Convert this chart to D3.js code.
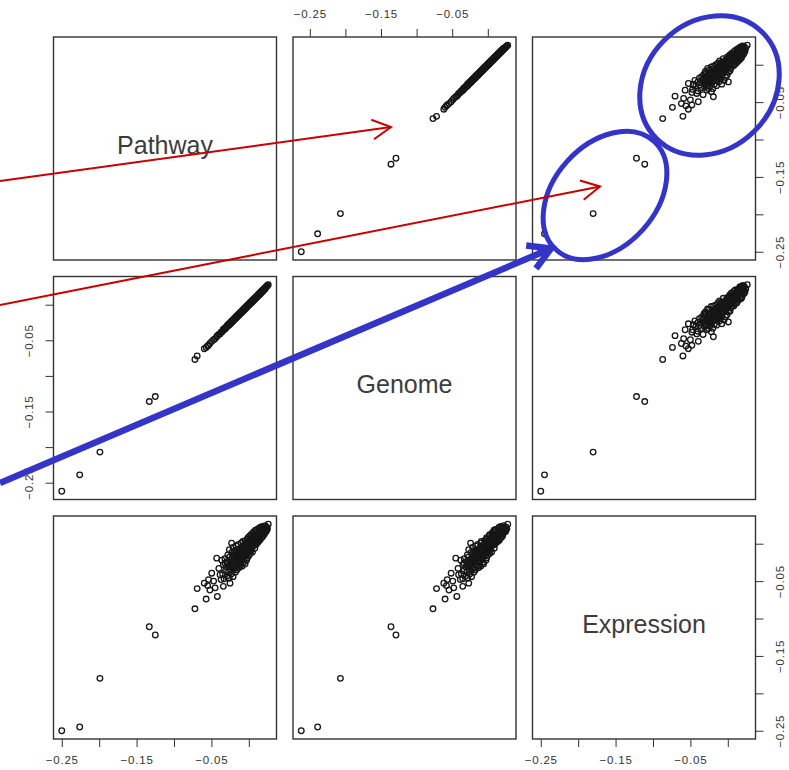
<!DOCTYPE html>
<html lang="en">
  <head>
    <meta charset="utf-8" />
    <title>Pairs plot</title>
    <script src="https://d3js.org/d3.v7.min.js"></script>
    <style>
      body { margin: 0; background: #fff; }
      text { font-family: "Liberation Sans", Arial, sans-serif; }
    </style>
  </head>
  <body>
    <script type="text/javascript">
      // variables of the pairs plot, in panel order
      const varNames = ["Pathway", "Genome", "Expression"];

      // one value per observation (outliers, sparse tail, dense cluster by band)
      const pathway = [
        -0.25, -0.226, -0.199, -0.125, -0.133, -0.072, -0.069,
        -0.057, -0.042, -0.045, -0.0595, -0.0495, -0.0384, -0.0274, -0.0251, -0.034, -0.0538, -0.0429, -0.023, -0.0317, -0.052, -0.047, -0.04, -0.037, -0.055, -0.036,
        -0.035, -0.034, -0.033, -0.032, -0.031, -0.03,
        -0.029, -0.029, -0.028, -0.027, -0.027, -0.026, -0.026, -0.025,
        -0.024, -0.024, -0.023, -0.023, -0.022, -0.022, -0.021, -0.021, -0.02, -0.02,
        -0.019, -0.019, -0.018, -0.018, -0.017, -0.017, -0.016, -0.016, -0.016, -0.015, -0.015, -0.015,
        -0.014, -0.014, -0.013, -0.013, -0.012, -0.012, -0.011, -0.011, -0.011, -0.01, -0.01, -0.01,
        -0.009, -0.009, -0.008, -0.008, -0.007, -0.007, -0.006, -0.006, -0.006, -0.005, -0.005, -0.005,
        -0.004, -0.004, -0.003, -0.003, -0.002, -0.002, -0.002, -0.001, -0.001, 0.0, 0.0, 0.0,
        0.001, 0.001, 0.002, 0.002, 0.003, 0.003, 0.003, 0.004, 0.004, 0.005, 0.005, 0.005,
        0.006, 0.006, 0.007, 0.007, 0.008, 0.008, 0.009, 0.009, 0.01, 0.01, 0.01,
        0.011, 0.011, 0.012, 0.012, 0.013, 0.013, 0.014, 0.014, 0.015, 0.015,
        0.016, 0.016, 0.017, 0.017, 0.018, 0.018, 0.019, 0.019, 0.02,
        0.021, 0.021, 0.022, 0.022, 0.023, 0.024, 0.025, 0.026,
        -0.028, -0.025, -0.022, -0.019, -0.017, -0.014, -0.012, -0.009, -0.007, -0.004, -0.001, 0.001, 0.004, 0.006, 0.009, 0.011, 0.014, 0.017, 0.019, 0.022,
        -0.026, -0.023, -0.02, -0.018, -0.015, -0.013, -0.01, -0.008, -0.005, -0.003, 0.0, 0.002, 0.005, 0.008, 0.01, 0.013, 0.015, 0.018, 0.02, 0.024,
      ];
      const genome = [
        -0.262, -0.239, -0.207, -0.129, -0.136, -0.077, -0.072,
        -0.06, -0.0435, -0.0478, -0.0618, -0.0515, -0.041, -0.0285, -0.0268, -0.0352, -0.057, -0.045, -0.0242, -0.0335, -0.0545, -0.0492, -0.0418, -0.0386, -0.0581, -0.038,
        -0.0372, -0.0349, -0.0352, -0.0331, -0.0334, -0.0309,
        -0.0311, -0.0298, -0.0287, -0.0291, -0.0279, -0.0268, -0.0281, -0.0257,
        -0.0259, -0.0246, -0.0236, -0.0249, -0.0225, -0.0238, -0.0214, -0.0228, -0.0216, -0.0203,
        -0.0206, -0.0193, -0.0183, -0.0196, -0.0172, -0.0185, -0.0161, -0.0175, -0.0166, -0.0164, -0.0151, -0.0159,
        -0.0153, -0.0141, -0.013, -0.0143, -0.012, -0.0132, -0.011, -0.0123, -0.0114, -0.0099, -0.0111, -0.0104,
        -0.0101, -0.0088, -0.0078, -0.0091, -0.0068, -0.008, -0.0057, -0.007, -0.0061, -0.0047, -0.0059, -0.0052,
        -0.0048, -0.0036, -0.0026, -0.0039, -0.0015, -0.0027, -0.0019, -0.0005, -0.0017, 0.0006, -0.0006, 0.0001,
        0.0005, 0.0017, 0.0027, 0.0014, 0.0038, 0.0025, 0.0031, 0.0048, 0.0036, 0.0059, 0.0046, 0.0054,
        0.0069, 0.0057, 0.008, 0.0067, 0.009, 0.0078, 0.0101, 0.0088, 0.0111, 0.0099, 0.0106,
        0.0122, 0.0109, 0.0132, 0.012, 0.0143, 0.013, 0.0153, 0.0141, 0.0164, 0.0151,
        0.0174, 0.0162, 0.0185, 0.0172, 0.0195, 0.0183, 0.0206, 0.0193, 0.0216,
        0.0227, 0.0214, 0.0237, 0.0225, 0.0248, 0.0258, 0.0269, 0.028,
        -0.029, -0.0268, -0.0228, -0.0204, -0.0176, -0.015, -0.0123, -0.0098, -0.0071, -0.0045, -0.0008, 0.0014, 0.0039, 0.0066, 0.0092, 0.0119, 0.0144, 0.0182, 0.0197, 0.0234,
        -0.0276, -0.0239, -0.0213, -0.0186, -0.0161, -0.0134, -0.0108, -0.0081, -0.0056, -0.0029, -0.0003, 0.0024, 0.005, 0.0087, 0.0102, 0.014, 0.0155, 0.0192, 0.0207, 0.0255,
      ];
      const expression = [
        -0.25, -0.245, -0.18, -0.122, -0.111, -0.087, -0.06,
        -0.074, -0.0705, -0.059, -0.0527, -0.0394, -0.0415, -0.046, -0.0527, -0.057, -0.048, -0.0193, 0.0008, -0.026, -0.062, -0.05, -0.033, -0.048, -0.056, -0.022,
        -0.04, -0.028, -0.047, -0.02, -0.036, -0.031,
        -0.043, -0.024, -0.015, -0.038, -0.03, -0.008, -0.046, -0.022,
        -0.035, -0.027, -0.012, -0.04, -0.019, -0.03, -0.005, -0.044, -0.025, -0.015,
        -0.033, -0.01, -0.022, -0.038, -0.003, -0.028, -0.017, -0.035, -0.008, -0.024, -0.03, -0.013,
        -0.02, -0.001, -0.032, -0.011, -0.026, -0.016, -0.006, -0.029, -0.019, 0.001, -0.023, -0.013,
        -0.03, -0.008, -0.018, 0.003, -0.025, -0.012, -0.003, -0.02, -0.015, 0.004, -0.027, -0.009,
        -0.016, 0.0, -0.022, -0.006, 0.006, -0.012, -0.019, -0.002, 0.008, -0.01, -0.016, 0.002,
        -0.005, 0.01, -0.013, 0.004, -0.001, 0.012, -0.009, 0.007, -0.004, 0.014, 0.001, -0.011,
        0.009, -0.003, 0.016, 0.004, -0.006, 0.011, 0.001, 0.018, 0.007, -0.001, 0.013,
        0.004, 0.019, 0.01, 0.002, 0.015, 0.007, 0.021, 0.011, 0.005, 0.017,
        0.012, 0.022, 0.008, 0.017, 0.013, 0.023, 0.01, 0.019, 0.015,
        0.021, 0.013, 0.018, 0.024, 0.016, 0.022, 0.02, 0.026,
        -0.027, -0.031, -0.02, -0.024, -0.012, -0.018, -0.009, -0.014, -0.004, -0.009, -0.005, 0.002, -0.001, 0.005, 0.004, 0.01, 0.008, 0.015, 0.013, 0.019,
        -0.018, -0.024, -0.033, -0.014, -0.019, -0.023, -0.017, -0.003, -0.015, -0.012, -0.004, -0.007, 0.008, 0.002, 0.016, 0.003, 0.012, 0.02, 0.022, 0.018,
      ];

      const tickValues = [-0.25, -0.2, -0.15, -0.1, -0.05, 0];
      const tickLabels = ["\u22120.25", "", "\u22120.15", "", "\u22120.05", ""];

      const data = [pathway, genome, expression];

      const w = 789;
      const h = 770;
      const cell = 223;
      const step = 239.5;
      const left0 = 53.5;
      const top0 = 37;

      let svg = d3
        .select("body")
        .append("svg")
        .attr("width", w)
        .attr("height", h);

      // R-style 4% padding around each variable's range
      function domainOf(v) {
        const ext = d3.extent(v);
        const pad = 0.04 * (ext[1] - ext[0]);
        return [ext[0] - pad, ext[1] + pad];
      }

      const xScales = data.map((v, j) =>
        d3.scaleLinear().domain(domainOf(v)).range([left0 + j * step, left0 + j * step + cell])
      );
      const yScales = data.map((v, i) =>
        d3.scaleLinear().domain(domainOf(v)).range([top0 + i * step + cell, top0 + i * step])
      );

      const n = pathway.length;

      for (let i = 0; i < 3; i++) {
        for (let j = 0; j < 3; j++) {
          const x0 = left0 + j * step;
          const y0 = top0 + i * step;

          if (i === j) {
            svg
              .append("text")
              .attr("x", x0 + cell / 2)
              .attr("y", y0 + cell / 2 + 5)
              .attr("text-anchor", "middle")
              .attr("font-size", "25px")
              .attr("fill", "#3c3c3c")
              .text(varNames[i]);
          } else {
            svg
              .append("g")
              .selectAll("circle")
              .data(d3.range(n))
              .enter()
              .append("circle")
              .attr("cx", (k) => xScales[j](data[j][k]))
              .attr("cy", (k) => yScales[i](data[i][k]))
              .attr("r", 2.8)
              .attr("fill", "none")
              .attr("stroke", "#161616")
              .attr("stroke-width", 1.3);
          }

          svg
            .append("rect")
            .attr("x", x0)
            .attr("y", y0)
            .attr("width", cell)
            .attr("height", cell)
            .attr("fill", "none")
            .attr("stroke", "#333")
            .attr("stroke-width", 1.4);
        }
      }

      function styleAxis(g) {
        g.select(".domain").remove();
        g.selectAll(".tick line").attr("stroke", "#333");
        g.selectAll(".tick text")
          .attr("fill", "#333")
          .attr("font-size", "11.5px")
          .attr("letter-spacing", "0.8px");
      }

      // top axis: column 2
      svg
        .append("g")
        .attr("transform", "translate(0," + top0 + ")")
        .call(d3.axisTop(xScales[1]).tickValues(tickValues).tickSize(8).tickFormat((d, k) => tickLabels[k]))
        .call(styleAxis)
        .call((g) => g.selectAll(".tick text").attr("y", -23).attr("dy", "0.35em"));

      // bottom axes: columns 1 and 3
      [0, 2].forEach((j) => {
        svg
          .append("g")
          .attr("transform", "translate(0," + (top0 + 2 * step + cell) + ")")
          .call(d3.axisBottom(xScales[j]).tickValues(tickValues).tickSize(8).tickFormat((d, k) => tickLabels[k]))
          .call(styleAxis)
          .call((g) => g.selectAll(".tick text").attr("y", 21).attr("dy", "0.35em"));
      });

      // left axis: row 2
      svg
        .append("g")
        .attr("transform", "translate(" + left0 + ",0)")
        .call(d3.axisLeft(yScales[1]).tickValues(tickValues).tickSize(8).tickFormat((d, k) => tickLabels[k]))
        .call(styleAxis)
        .call((g) =>
          g
            .selectAll(".tick text")
            .attr("transform", "rotate(-90)")
            .attr("x", 0)
            .attr("y", -25)
            .attr("dy", "0.35em")
            .attr("text-anchor", "middle")
        );

      // right axes: rows 1 and 3
      [0, 2].forEach((i) => {
        svg
          .append("g")
          .attr("transform", "translate(" + (left0 + 2 * step + cell) + ",0)")
          .call(d3.axisRight(yScales[i]).tickValues(tickValues).tickSize(8).tickFormat((d, k) => tickLabels[k]))
          .call(styleAxis)
          .call((g) =>
            g
              .selectAll(".tick text")
              .attr("transform", "rotate(-90)")
              .attr("x", 0)
              .attr("y", 24)
              .attr("dy", "0.35em")
              .attr("text-anchor", "middle")
          );
      });

      // hand-drawn annotations on top
      const ellipses = [
        { cx: 709.5, cy: 85.5, rx: 75, ry: 64, rot: -45 },
        { cx: 605, cy: 195.5, rx: 73, ry: 51, rot: -48 },
      ];
      svg
        .selectAll("ellipse")
        .data(ellipses)
        .enter()
        .append("ellipse")
        .attr("cx", (d) => d.cx)
        .attr("cy", (d) => d.cy)
        .attr("rx", (d) => d.rx)
        .attr("ry", (d) => d.ry)
        .attr("transform", (d) => "rotate(" + d.rot + "," + d.cx + "," + d.cy + ")")
        .attr("fill", "none")
        .attr("stroke", "#3434c8")
        .attr("stroke-width", 5);

      const arrows = [
        { x1: 0, y1: 181, x2: 391, y2: 127, color: "#c80000", width: 2, head: 21, ang: 28 },
        { x1: 0, y1: 305, x2: 600, y2: 186.5, color: "#c80000", width: 2, head: 21, ang: 28 },
        { x1: 0, y1: 483, x2: 551, y2: 248.5, color: "#3434c8", width: 6.5, head: 25, ang: 30 },
      ];
      arrows.forEach((a) => {
        const back = Math.atan2(a.y1 - a.y2, a.x1 - a.x2);
        const r = (a.ang * Math.PI) / 180;
        const p1 = [a.x2 + a.head * Math.cos(back + r), a.y2 + a.head * Math.sin(back + r)];
        const p2 = [a.x2 + a.head * Math.cos(back - r), a.y2 + a.head * Math.sin(back - r)];
        svg
          .append("line")
          .attr("x1", a.x1)
          .attr("y1", a.y1)
          .attr("x2", a.x2)
          .attr("y2", a.y2)
          .attr("stroke", a.color)
          .attr("stroke-width", a.width);
        svg
          .append("path")
          .attr("d", d3.line()([p1, [a.x2, a.y2], p2]))
          .attr("fill", "none")
          .attr("stroke", a.color)
          .attr("stroke-width", a.width)
          .attr("stroke-linejoin", "miter");
      });
    </script>
  </body>
</html>
